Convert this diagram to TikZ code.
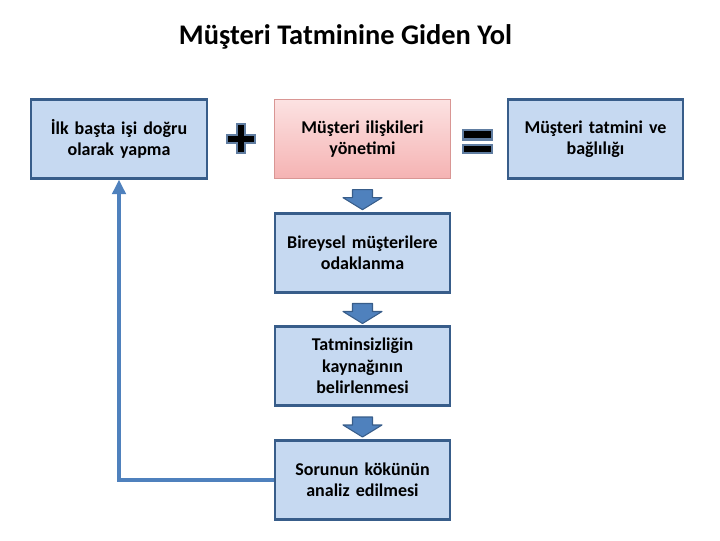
\documentclass[tikz,border=0pt]{standalone}
\usepackage{fontspec}
\setmainfont{Carlito}
\usetikzlibrary{calc,arrows.meta}

\definecolor{boxblue}{HTML}{C6D9F1}
\definecolor{edgeblue}{HTML}{385D8A}
\definecolor{arrblue}{HTML}{4F81BD}
\definecolor{pinktop}{HTML}{FCE2E2}
\definecolor{pinkbot}{HTML}{F5B3B3}
\definecolor{pinkedge}{HTML}{D99694}

\begin{document}
\begin{tikzpicture}[x=0.75pt, y=-0.75pt,
    box/.style={draw=edgeblue, line width=1.8pt, fill=boxblue, minimum width=130pt,
        minimum height=59pt, text width=125pt, align=center,
        font=\fontsize{13.5}{16}\selectfont\bfseries},
    pinkbox/.style={box, draw=pinkedge, line width=0.8pt, top color=pinktop, bottom color=pinkbot},
    feedback/.style={draw=arrblue, line width=3pt, -{Triangle[width=10pt,length=11pt]}},
    blockarrow/.style={fill=arrblue, draw=edgeblue, line width=0.8pt, line join=round},
    sign/.style={fill=black, draw=edgeblue!80, line width=2pt}]
    \useasboundingbox (0,0) rectangle (720,540);
    % title
    \node[font=\fontsize{21.3}{25}\selectfont\bfseries] (title) at (345.5,37) {Müşteri Tatminine Giden Yol};
    % top row
    \node[box] (first) at (119,139) {İlk başta işi doğru\\olarak yapma};
    \node[pinkbox] (crm) at (362.5,139) {Müşteri ilişkileri\\yönetimi};
    \node[box] (result) at (595.5,139) {Müşteri tatmini ve\\bağlılığı};
    % steps
    \node[box] (indiv) at (362.5,253) {Bireysel müşterilere\\odaklanma};
    \node[box] (source) at (362.5,366) {Tatminsizliğin\\kaynağının\\belirlenmesi};
    \node[box] (root) at (362.5,480) {Sorunun kökünün\\analiz edilmesi};
    % plus and equals
    \draw[sign] (237,124) -- (245,124) -- (245,135) -- (255,135) -- (255,143) -- (245,143)
        -- (245,153) -- (237,153) -- (237,143) -- (227,143) -- (227,135) -- (237,135) -- cycle;
    \draw[sign] (463,130) rectangle (492,139.5);
    \draw[sign] (463,145) rectangle (492,153);
    % down arrows between the boxes
    \foreach \a/\b in {crm/indiv, indiv/source, source/root} {
        \coordinate (m) at ($(\a.south)!0.5!(\b.north)+(0,4)$);
        \draw[blockarrow] ($(m)+(-10,-10)$) -- ($(m)+(10,-10)$) -- ($(m)+(10,-2)$)
            -- ($(m)+(19.5,-2)$) -- ($(m)+(0,10)$) -- ($(m)+(-19.5,-2)$)
            -- ($(m)+(-10,-2)$) -- cycle;
    }
    % back to the start
    \draw[feedback] (root.west) -| (first.south);
\end{tikzpicture}
\end{document}
